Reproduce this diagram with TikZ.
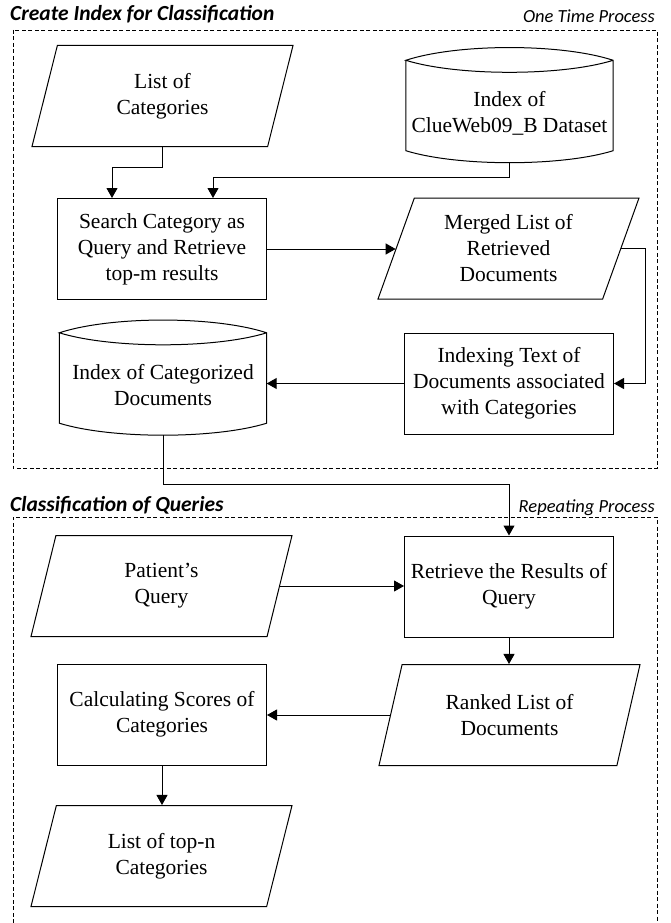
\documentclass[tikz,border=0pt]{standalone}
\usepackage{fontspec}
\setmainfont{Liberation Serif}
\newfontfamily\titlefont{Carlito}
\usetikzlibrary{shapes.geometric,arrows.meta,calc}

\tikzset{
  txt/.style={font=\fontsize{21.5}{26}\selectfont, align=center, inner sep=2pt},
  proc/.style={txt, draw, line width=1pt, minimum width=209pt, minimum height=101pt},
  io/.style={txt, draw, line width=1pt, trapezium, trapezium left angle=63, trapezium right angle=117,
    trapezium stretches body, minimum width=261pt, minimum height=101pt},
  db/.style={txt, minimum width=207pt, minimum height=75pt, inner sep=0pt},
  arr/.style={-{Triangle[length=10pt,width=11pt]}, line width=1pt},
  frame/.style={dash pattern=on 4pt off 2.5pt, line width=0.9pt},
  title/.style={font={\titlefont\bfseries\itshape\fontsize{21.5}{24}\selectfont}, inner sep=0pt},
  sub/.style={font={\titlefont\itshape\fontsize{18.5}{22}\selectfont}, inner sep=0pt}
}

% drum shape round a db node
\newcommand{\drum}[1]{%
  \draw[line width=1pt] ($(#1.north west)+(0,-15)$) -- (#1.south west)
    .. controls ($(#1.south west)!0.25!(#1.south east)+(0,16)$) and ($(#1.south west)!0.75!(#1.south east)+(0,16)$) .. (#1.south east)
    -- ($(#1.north east)+(0,-15)$)
    .. controls ($(#1.north west)!0.75!(#1.north east)+(0,-32)$) and ($(#1.north west)!0.25!(#1.north east)+(0,-32)$) .. ($(#1.north west)+(0,-15)$)
    .. controls ($(#1.north west)!0.25!(#1.north east)+(0,1)$) and ($(#1.north west)!0.75!(#1.north east)+(0,1)$) .. ($(#1.north east)+(0,-15)$);}

\begin{document}
\begin{tikzpicture}[x=1pt,y=-1pt]
  \useasboundingbox (0,0) rectangle (670,923);

  % frames
  \draw[frame] (13,30) rectangle (657,468);
  \draw[frame] (13,923) -- (13,517) -- (657,517) -- (657,923);
  \node[title, anchor=base west] (t1) at (10,21) {Create Index for Classification};
  \node[sub, anchor=base east] (t2) at (655,23) {One Time Process};
  \node[title, anchor=base west] (t3) at (10,511) {Classification of Queries};
  \node[sub, anchor=base east] (t4) at (655,512) {Repeating Process};

  % one time process
  \node[io] (cats) at (162.5,96) {List of\\Categories};
  \node[db] (clue) at (509.5,113) {Index of\\ClueWeb09\_B Dataset};
  \drum{clue}
  \node[proc] (search) at (162,249) {Search Category as\\Query and Retrieve\\top-m results};
  \node[io] (merged) at (508.5,248.5) {Merged List of\\Retrieved\\Documents};
  \node[db] (catdb) at (163,385.5) {Index of Categorized\\Documents};
  \drum{catdb}
  \node[proc] (indexing) at (509,383.5) {Indexing Text of\\Documents associated\\with Categories};

  \draw[arr] (cats.center |- cats.south) -- ++(0,20) -| ($(search.north)+(-50,0)$);
  \draw[arr] ($(clue.south)+(0,12)$) -- ++(0,15) -| ($(search.north)+(51,0)$);
  \draw[arr] (search.east) -- (search.east -| merged.west);
  \draw[arr] (merged.east) -- ++(24,0) |- (indexing.east);
  \draw[arr] (indexing.west) -- (indexing.west -| catdb.east);

  % repeating process
  \node[io] (patient) at (161.5,586) {Patient’s\\Query};
  \node[proc] (retrieve) at (509,586.5) {Retrieve the Results of\\Query};
  \node[io] (ranked) at (509.5,715) {Ranked List of\\Documents};
  \node[proc] (calc) at (162,714.5) {Calculating Scores of\\Categories};
  \node[io] (topn) at (161.5,856) {List of top-n\\Categories};

  \draw[arr] ($(catdb.south)+(0,12)$) -- ++(0,49) -| (retrieve.north);
  \draw[arr] (patient.east) -- (patient.east -| retrieve.west);
  \draw[arr] (retrieve.south) -- (retrieve.south |- ranked.north);
  \draw[arr] (ranked.west) -- (ranked.west -| calc.east);
  \draw[arr] (calc.south) -- (calc.south |- topn.north);
\end{tikzpicture}
\end{document}
